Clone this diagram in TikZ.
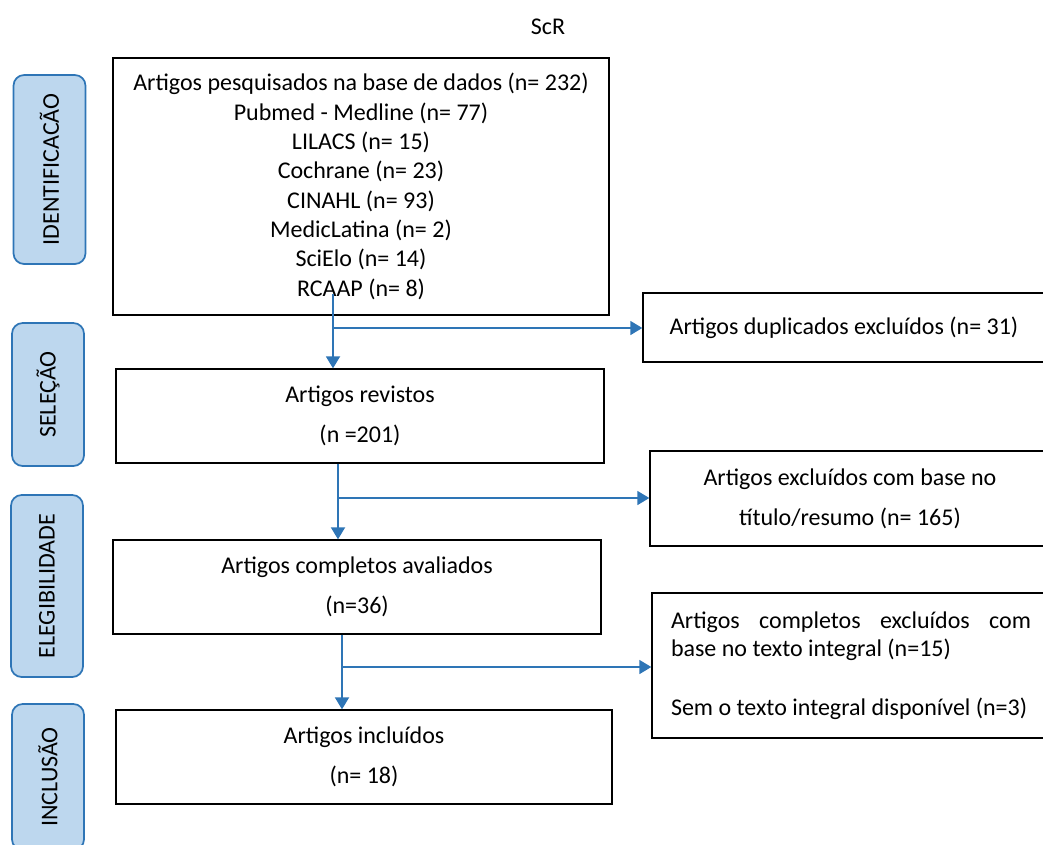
\documentclass[tikz,border=0pt]{standalone}
\usepackage{fontspec}
\setmainfont{Carlito}
\usetikzlibrary{arrows.meta}
\definecolor{lblfill}{HTML}{BDD7EE}
\definecolor{lbldraw}{HTML}{2E75B6}
\definecolor{arrblue}{HTML}{2E75B6}
\begin{document}
\begin{tikzpicture}[x=0.75pt,y=-0.75pt,
  every node/.style={font=\fontsize{18}{22}\selectfont},
  mainbox/.style={draw=black,line width=1pt,inner sep=0pt,align=center},
  sidebox/.style={draw=black,line width=1pt,inner sep=0pt,align=center},
  stagebox/.style={draw=lbldraw,fill=lblfill,line width=1.3pt,rounded corners=8pt,rotate=90,inner sep=0pt,minimum height=54pt},
  flow/.style={draw=arrblue,line width=1.4pt,-{Triangle[width=10.5pt,length=9pt]}},
  branch/.style={draw=arrblue,line width=1.1pt,-{Triangle[width=10.5pt,length=9pt]}}]
\useasboundingbox (0,0) rectangle (1043,844);

\node (title) at (548,27) {ScR};

% stage labels
\node[stagebox,minimum width=141.75pt] (l1) at (49.5,169.5) {IDENTIFICACÃO};
\node[stagebox,minimum width=107.25pt] (l2) at (48,394.5) {SELEÇÃO};
\node[stagebox,minimum width=136.5pt] (l3) at (47,586) {ELEGIBILIDADE};
\node[stagebox,minimum width=109.5pt] (l4) at (48,777) {INCLUSÃO};

% main boxes
\node[mainbox,minimum width=372pt,minimum height=192.75pt] (b1) at (361,186.5)
  {Artigos pesquisados na base de dados (n= 232)\\Pubmed - Medline (n= 77)\\LILACS (n= 15)\\Cochrane (n= 23)\\CINAHL (n= 93)\\MedicLatina (n= 2)\\SciElo (n= 14)\\RCAAP (n= 8)};
\node[mainbox,minimum width=366pt,minimum height=70.5pt,font=\fontsize{18}{30}\selectfont] (b2) at (360,416)
  {Artigos revistos\\(n =201)};
\node[mainbox,minimum width=366pt,minimum height=70.5pt,font=\fontsize{18}{30}\selectfont] (b3) at (357,587)
  {Artigos completos avaliados\\(n=36)};
\node[mainbox,minimum width=372pt,minimum height=70.5pt,font=\fontsize{18}{30}\selectfont] (b4) at (364,757)
  {Artigos incluídos\\(n= 18)};

% side boxes
\node[sidebox,minimum width=301.5pt,minimum height=51.75pt] (d1) at (844,327.5)
  {Artigos duplicados excluídos (n= 31)};
\node[sidebox,minimum width=300pt,minimum height=71.25pt,font=\fontsize{18}{30}\selectfont] (d2) at (850,498.5)
  {Artigos excluídos com base no\\título/resumo (n= 165)};
\node[sidebox,minimum width=298.5pt,minimum height=108.75pt,align=left,font=\fontsize{18}{21}\selectfont] (d3) at (851,665.5)
  {\makebox[270pt][s]{Artigos completos excluídos com}\\base no texto integral (n=15)\\[23pt]Sem o texto integral disponível (n=3)};

% connectors
\coordinate (s1) at (333,294);
\coordinate (j1) at (333,328);
\coordinate (k2) at (338,0);
\coordinate (j2) at (338,498);
\coordinate (k3) at (342,0);
\coordinate (j3) at (342,667);

\draw[flow] (s1) -- (s1 |- b2.north);
\draw[branch] (j1) -- (j1 -| d1.west);
\draw[flow] (k2 |- b2.south) -- (k2 |- b3.north);
\draw[branch] (j2) -- (j2 -| d2.west);
\draw[flow] (k3 |- b3.south) -- (k3 |- b4.north);
\draw[branch] (j3) -- (j3 -| d3.west);
\end{tikzpicture}
\end{document}
